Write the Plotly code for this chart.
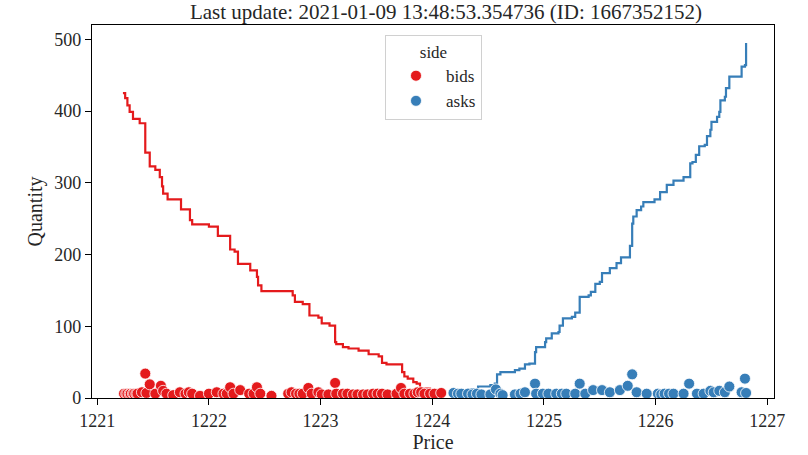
import plotly.graph_objects as go

# ---- cumulative depth (step lines) ----
bid_line_price = [1221.23, 1221.25, 1221.27, 1221.29, 1221.32, 1221.38, 1221.43, 1221.47, 1221.52,
                  1221.56, 1221.58, 1221.59, 1221.63, 1221.75, 1221.83, 1221.85, 1222.00, 1222.08,
                  1222.19, 1222.23, 1222.26, 1222.37, 1222.43, 1222.44, 1222.47, 1222.75, 1222.77,
                  1222.84, 1222.90, 1222.98, 1223.01, 1223.08, 1223.13, 1223.14, 1223.20, 1223.25,
                  1223.34, 1223.43, 1223.52, 1223.55, 1223.59, 1223.73, 1223.75, 1223.78, 1223.83,
                  1223.86, 1223.89, 1223.98, 1224.07]
bid_line_qty = [425, 418, 408, 399, 389, 383, 342, 323, 318,
                308, 295, 285, 277, 263, 248, 242, 239, 226,
                207, 204, 187, 178, 169, 157, 149, 143, 134,
                131, 115, 112, 104, 101, 78, 75, 71, 69,
                66, 61, 58, 49, 47, 36, 30, 27, 22,
                20, 13, 8, 5]

ask_line_price = [1224.17, 1224.19, 1224.32, 1224.41, 1224.52, 1224.56, 1224.58, 1224.61, 1224.74,
                  1224.78, 1224.83, 1224.87, 1224.92, 1224.93, 1225.01, 1225.02, 1225.07, 1225.13,
                  1225.14, 1225.17, 1225.25, 1225.28, 1225.32, 1225.40, 1225.42, 1225.46, 1225.50,
                  1225.52, 1225.59, 1225.65, 1225.69, 1225.77, 1225.79, 1225.80, 1225.83, 1225.87,
                  1225.89, 1225.99, 1226.04, 1226.10, 1226.16, 1226.25, 1226.31, 1226.33, 1226.36,
                  1226.39, 1226.44, 1226.46, 1226.49, 1226.50, 1226.55, 1226.57, 1226.58, 1226.62,
                  1226.63, 1226.66, 1226.77, 1226.80, 1226.81]
ask_line_qty = [4, 6, 12, 16, 18, 20, 33, 36, 39,
                41, 47, 48, 64, 71, 78, 83, 90, 92,
                101, 111, 113, 119, 141, 143, 148, 159, 162,
                174, 181, 188, 196, 212, 243, 253, 262, 267,
                273, 277, 287, 297, 303, 308, 327, 329, 339,
                351, 353, 365, 374, 385, 392, 399, 415, 420,
                432, 448, 462, 464, 495]

# ---- individual orders (scatter) ----
bid_price = [1221.24, 1221.26, 1221.27, 1221.29, 1221.30, 1221.32, 1221.33, 1221.35, 1221.36,
             1221.40, 1221.43, 1221.44, 1221.47, 1221.52, 1221.57, 1221.59, 1221.62, 1221.68,
             1221.74, 1221.79, 1221.82, 1221.85, 1221.92, 1222.00, 1222.07, 1222.13, 1222.16,
             1222.19, 1222.22, 1222.28, 1222.36, 1222.40, 1222.43, 1222.46, 1222.56, 1222.71,
             1222.74, 1222.78, 1222.81, 1222.84, 1222.89, 1222.92, 1222.98, 1223.01, 1223.07,
             1223.13, 1223.14, 1223.20, 1223.24, 1223.29, 1223.33, 1223.38, 1223.42, 1223.47,
             1223.51, 1223.55, 1223.60, 1223.68, 1223.72, 1223.75, 1223.80, 1223.84, 1223.87,
             1223.90, 1223.93, 1223.98, 1224.02, 1224.08]
bid_qty = [6, 6, 6, 6, 6, 6, 6, 6, 6,
           8, 34, 7, 19, 6, 17, 10, 6, 4,
           8, 6, 8, 6, 3, 6, 8, 6, 6,
           15, 6, 11, 6, 6, 15, 6, 3, 6,
           8, 6, 6, 6, 14, 6, 8, 5, 5,
           21, 6, 6, 6, 5, 5, 5, 5, 6,
           6, 6, 5, 6, 14, 6, 6, 6, 8,
           8, 6, 6, 6, 7]

ask_price = [1224.19, 1224.23, 1224.26, 1224.32, 1224.36, 1224.40, 1224.44, 1224.52, 1224.57,
             1224.61, 1224.63, 1224.74, 1224.79, 1224.83, 1224.92, 1224.93, 1224.99, 1225.04,
             1225.11, 1225.16, 1225.20, 1225.28, 1225.32, 1225.37, 1225.44, 1225.52, 1225.59,
             1225.68, 1225.75, 1225.79, 1225.83, 1225.92, 1226.02, 1226.05, 1226.08, 1226.12,
             1226.16, 1226.25, 1226.30, 1226.37, 1226.43, 1226.49, 1226.52, 1226.57, 1226.62,
             1226.66, 1226.77, 1226.80, 1226.81]
ask_qty = [7, 6, 6, 6, 5, 6, 5, 5, 12,
           6, 4, 5, 6, 8, 20, 6, 6, 6,
           6, 6, 6, 6, 20, 6, 11, 11, 8,
           11, 17, 33, 8, 6, 6, 5, 6, 6,
           6, 6, 20, 6, 6, 10, 8, 10, 8,
           16, 8, 27, 7]

x_ticks = [1221, 1222, 1223, 1224, 1225, 1226, 1227]
y_ticks = [0, 100, 200, 300, 400, 500]

title_text = "Last update: 2021-01-09 13:48:53.354736 (ID: 1667352152)"

RED = "#e41a1c"
BLUE = "#377eb8"
FONT = "Liberation Serif"
INK = "#262626"

fig = go.Figure()

fig.add_trace(go.Scatter(x=bid_line_price, y=bid_line_qty, mode="lines", line_shape="hv",
                         line=dict(color=RED, width=2.2), showlegend=False, hoverinfo="skip"))
fig.add_trace(go.Scatter(x=ask_line_price, y=ask_line_qty, mode="lines", line_shape="hv",
                         line=dict(color=BLUE, width=2.2), showlegend=False, hoverinfo="skip"))

fig.add_trace(go.Scatter(x=bid_price, y=bid_qty, mode="markers", name="bids",
                         marker=dict(color=RED, size=11, line=dict(color="white", width=0.8))))
fig.add_trace(go.Scatter(x=ask_price, y=ask_qty, mode="markers", name="asks",
                         marker=dict(color=BLUE, size=11, line=dict(color="white", width=0.8))))

axis_common = dict(showgrid=False, zeroline=False, showline=True, linecolor="black", linewidth=1.3,
                   mirror=True, ticks="outside", ticklen=6, tickwidth=1.3, tickcolor="black",
                   automargin=False,
                   tickfont=dict(family=FONT, size=18, color=INK))

fig.update_xaxes(range=[1220.953, 1227.06], tickvals=x_ticks, ticktext=[str(v) for v in x_ticks],
                 title=dict(text="Price", font=dict(family=FONT, size=20, color=INK), standoff=4),
                 **axis_common)
fig.update_yaxes(range=[0, 520], tickvals=y_ticks, ticktext=[str(v) for v in y_ticks],
                 title=dict(text="Quantity", font=dict(family=FONT, size=20, color=INK), standoff=6),
                 **axis_common)

fig.update_layout(
    width=808, height=455,
    margin=dict(l=92, r=34, t=25, b=57, pad=0),
    paper_bgcolor="white", plot_bgcolor="white",
    title=dict(text=title_text, x=0.552, xanchor="center", y=0.975, yanchor="middle",
               font=dict(family=FONT, size=21, color=INK)),
    legend=dict(title=dict(text="side", side="top center", font=dict(family=FONT, size=17, color=INK)),
                x=0.4296, y=0.973, xanchor="left", yanchor="top",
                bordercolor="#d0d0d0", borderwidth=1, bgcolor="rgba(255,255,255,0.8)",
                font=dict(family=FONT, size=17, color=INK), itemwidth=50),
)

fig.write_html("out.html", config={"displayModeBar": False},
               post_script="document.body.style.margin='0px';")
